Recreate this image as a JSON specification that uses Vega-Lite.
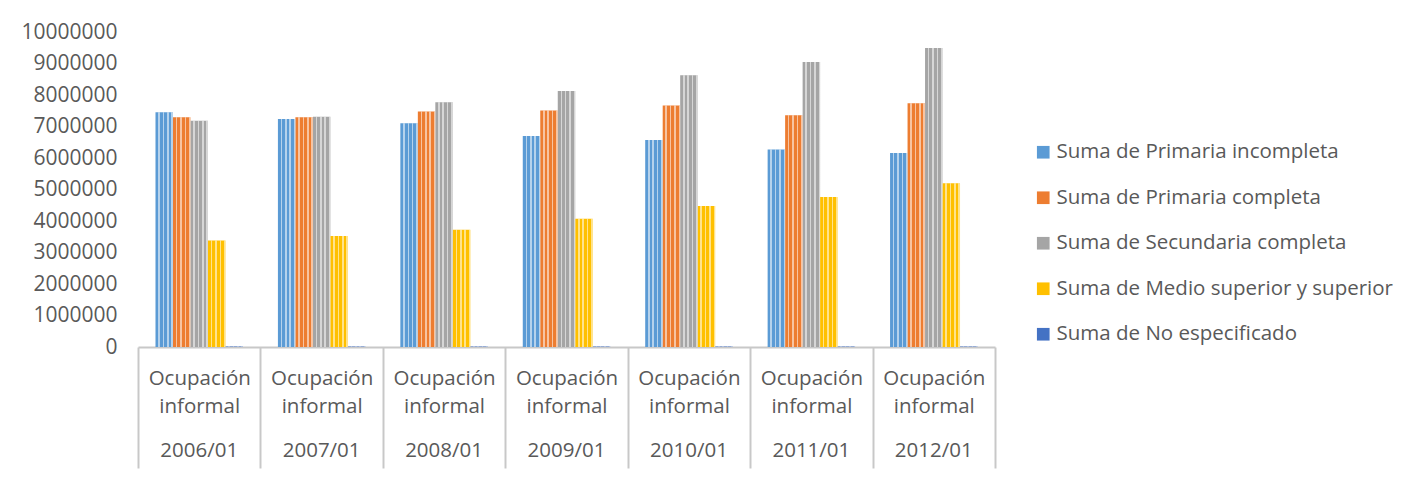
{
  "$schema": "https://vega.github.io/schema/vega-lite/v6.json",
  "width": 857,
  "height": 315,
  "autosize": {"type": "none"},
  "padding": {"left": 138, "top": 32, "right": 429, "bottom": 134},
  "background": "white",
  "config": {"view": {"stroke": null}, "font": "Open Sans"},
  "data": {
    "values": [
      {"periodo": "2006/01", "serie": "Suma de Primaria incompleta", "valor": 7450000},
      {"periodo": "2006/01", "serie": "Suma de Primaria completa", "valor": 7290000},
      {"periodo": "2006/01", "serie": "Suma de Secundaria completa", "valor": 7180000},
      {"periodo": "2006/01", "serie": "Suma de Medio superior y superior", "valor": 3380000},
      {"periodo": "2006/01", "serie": "Suma de No especificado", "valor": 15000},
      {"periodo": "2007/01", "serie": "Suma de Primaria incompleta", "valor": 7240000},
      {"periodo": "2007/01", "serie": "Suma de Primaria completa", "valor": 7290000},
      {"periodo": "2007/01", "serie": "Suma de Secundaria completa", "valor": 7310000},
      {"periodo": "2007/01", "serie": "Suma de Medio superior y superior", "valor": 3520000},
      {"periodo": "2007/01", "serie": "Suma de No especificado", "valor": 15000},
      {"periodo": "2008/01", "serie": "Suma de Primaria incompleta", "valor": 7100000},
      {"periodo": "2008/01", "serie": "Suma de Primaria completa", "valor": 7480000},
      {"periodo": "2008/01", "serie": "Suma de Secundaria completa", "valor": 7770000},
      {"periodo": "2008/01", "serie": "Suma de Medio superior y superior", "valor": 3720000},
      {"periodo": "2008/01", "serie": "Suma de No especificado", "valor": 15000},
      {"periodo": "2009/01", "serie": "Suma de Primaria incompleta", "valor": 6700000},
      {"periodo": "2009/01", "serie": "Suma de Primaria completa", "valor": 7510000},
      {"periodo": "2009/01", "serie": "Suma de Secundaria completa", "valor": 8130000},
      {"periodo": "2009/01", "serie": "Suma de Medio superior y superior", "valor": 4070000},
      {"periodo": "2009/01", "serie": "Suma de No especificado", "valor": 15000},
      {"periodo": "2010/01", "serie": "Suma de Primaria incompleta", "valor": 6570000},
      {"periodo": "2010/01", "serie": "Suma de Primaria completa", "valor": 7670000},
      {"periodo": "2010/01", "serie": "Suma de Secundaria completa", "valor": 8630000},
      {"periodo": "2010/01", "serie": "Suma de Medio superior y superior", "valor": 4480000},
      {"periodo": "2010/01", "serie": "Suma de No especificado", "valor": 15000},
      {"periodo": "2011/01", "serie": "Suma de Primaria incompleta", "valor": 6270000},
      {"periodo": "2011/01", "serie": "Suma de Primaria completa", "valor": 7360000},
      {"periodo": "2011/01", "serie": "Suma de Secundaria completa", "valor": 9050000},
      {"periodo": "2011/01", "serie": "Suma de Medio superior y superior", "valor": 4760000},
      {"periodo": "2011/01", "serie": "Suma de No especificado", "valor": 15000},
      {"periodo": "2012/01", "serie": "Suma de Primaria incompleta", "valor": 6160000},
      {"periodo": "2012/01", "serie": "Suma de Primaria completa", "valor": 7740000},
      {"periodo": "2012/01", "serie": "Suma de Secundaria completa", "valor": 9490000},
      {"periodo": "2012/01", "serie": "Suma de Medio superior y superior", "valor": 5200000},
      {"periodo": "2012/01", "serie": "Suma de No especificado", "valor": 15000}
    ]
  },
  "resolve": {"axis": {"x": "independent"}},
  "encoding": {
    "xOffset": {
      "field": "serie",
      "type": "nominal",
      "sort": ["Suma de Primaria incompleta", "Suma de Primaria completa", "Suma de Secundaria completa", "Suma de Medio superior y superior", "Suma de No especificado"],
      "scale": {"paddingInner": 0, "paddingOuter": 1.165}
    },
    "y": {
      "field": "valor",
      "type": "quantitative",
      "scale": {"domain": [0, 10000000], "nice": false},
      "axis": {
        "title": null,
        "values": [0, 1000000, 2000000, 3000000, 4000000, 5000000, 6000000, 7000000, 8000000, 9000000, 10000000],
        "format": "d",
        "grid": false,
        "domain": false,
        "ticks": false,
        "labelFontSize": 21,
        "labelColor": "#595959",
        "labelPadding": 21
      }
    }
  },
  "layer": [
    {
      "mark": {"type": "bar"},
      "encoding": {
        "x": {
          "field": "periodo",
          "type": "nominal",
          "sort": null,
          "scale": {"paddingInner": 0, "paddingOuter": 0},
          "axis": {
            "title": null,
            "orient": "bottom",
            "labelAngle": 0,
            "labelExpr": "isValid(datum.value) ? ['Ocupación', 'informal'] : ''",
            "labelLineHeight": 28,
            "labelFontSize": 20.5,
            "labelColor": "#595959",
            "labelBaseline": "top",
            "labelPadding": -100,
            "domainColor": "#c8c8c8",
            "domainWidth": 2,
            "tickColor": "#c8c8c8",
            "tickWidth": 2,
            "tickSize": 121,
            "tickBand": "extent"
          }
        },
        "color": {
          "field": "serie",
          "type": "nominal",
          "scale": {
            "domain": ["Suma de Primaria incompleta", "Suma de Primaria completa", "Suma de Secundaria completa", "Suma de Medio superior y superior", "Suma de No especificado"],
            "range": ["#5b9bd5", "#ed7d31", "#a5a5a5", "#ffc000", "#4472c4"]
          },
          "legend": {
            "title": null,
            "orient": "none",
            "legendX": 895,
            "legendY": 110,
            "symbolType": "square",
            "symbolSize": 160,
            "symbolStrokeWidth": 0,
            "labelFontSize": 20.5,
            "labelColor": "#595959",
            "labelOffset": 3,
            "rowPadding": 24.5,
            "labelLimit": 400
          }
        }
      }
    },
    {
      "mark": {
        "type": "bar",
        "fill": {"gradient": "linear", "x1": 0, "y1": 0, "x2": 1, "y2": 0, "stops": [
          {"offset": 0, "color": "rgba(255,255,255,0)"}, {"offset": 0.16, "color": "rgba(255,255,255,0)"}, {"offset": 0.16, "color": "rgba(255,255,255,0.55)"}, {"offset": 0.25, "color": "rgba(255,255,255,0.55)"},
          {"offset": 0.25, "color": "rgba(255,255,255,0)"}, {"offset": 0.41, "color": "rgba(255,255,255,0)"}, {"offset": 0.41, "color": "rgba(255,255,255,0.55)"}, {"offset": 0.5, "color": "rgba(255,255,255,0.55)"},
          {"offset": 0.5, "color": "rgba(255,255,255,0)"}, {"offset": 0.66, "color": "rgba(255,255,255,0)"}, {"offset": 0.66, "color": "rgba(255,255,255,0.55)"}, {"offset": 0.75, "color": "rgba(255,255,255,0.55)"},
          {"offset": 0.75, "color": "rgba(255,255,255,0)"}, {"offset": 0.91, "color": "rgba(255,255,255,0)"}, {"offset": 0.91, "color": "rgba(255,255,255,0.55)"}, {"offset": 1, "color": "rgba(255,255,255,0.55)"}]}
      },
      "encoding": {
        "x": {
          "field": "periodo",
          "type": "nominal",
          "sort": null,
          "axis": {
            "title": null,
            "orient": "bottom",
            "labelAngle": 0,
            "labelFontSize": 20.5,
            "labelColor": "#595959",
            "labelBaseline": "top",
            "labelPadding": 93,
            "domain": false,
            "ticks": false
          }
        }
      }
    }
  ]
}
